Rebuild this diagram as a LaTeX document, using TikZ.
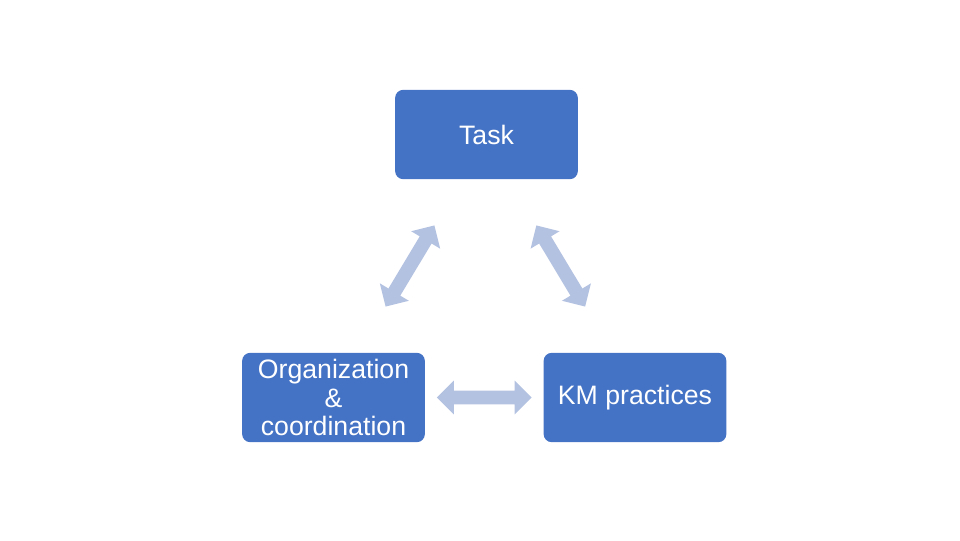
\documentclass[tikz,border=0pt]{standalone}
\usepackage{fontspec}
\setmainfont{Liberation Sans}
\usetikzlibrary{calc,shapes.arrows}
\definecolor{boxblue}{HTML}{4472C4}
\definecolor{arrblue}{HTML}{B4C2E1}
\tikzset{
  topic/.style={fill=boxblue,rounded corners=6pt,minimum width=137pt,
    minimum height=67pt,inner sep=2pt,text=white,align=center,
    font=\fontsize{20}{21.5}\selectfont},
  link/.style={double arrow,fill=arrblue,inner sep=0pt,minimum height=71pt,
    text height=5pt,text depth=5pt,text width=0pt,
    double arrow head extend=7.5pt},
}
\begin{document}
\begin{tikzpicture}[x=0.75pt,y=-0.75pt]
  \useasboundingbox (0,0) rectangle (960,540);
  \node[topic] (task) at (486.5,134.5) {Task};
  \node[topic] (org) at (333.5,397.5) {Organization\\\&\\coordination};
  \node[topic] (km) at (635,397.5) {KM practices};
  % block arrows halfway between the boxes
  \node[link,rotate=59] (taskorg) at ($(task)!0.5!(org)$) {};
  \node[link,rotate=-59] (taskkm) at ($(task)!0.5!(km)$) {};
  \node[link] (orgkm) at ($(org)!0.5!(km)$) {};
\end{tikzpicture}
\end{document}
